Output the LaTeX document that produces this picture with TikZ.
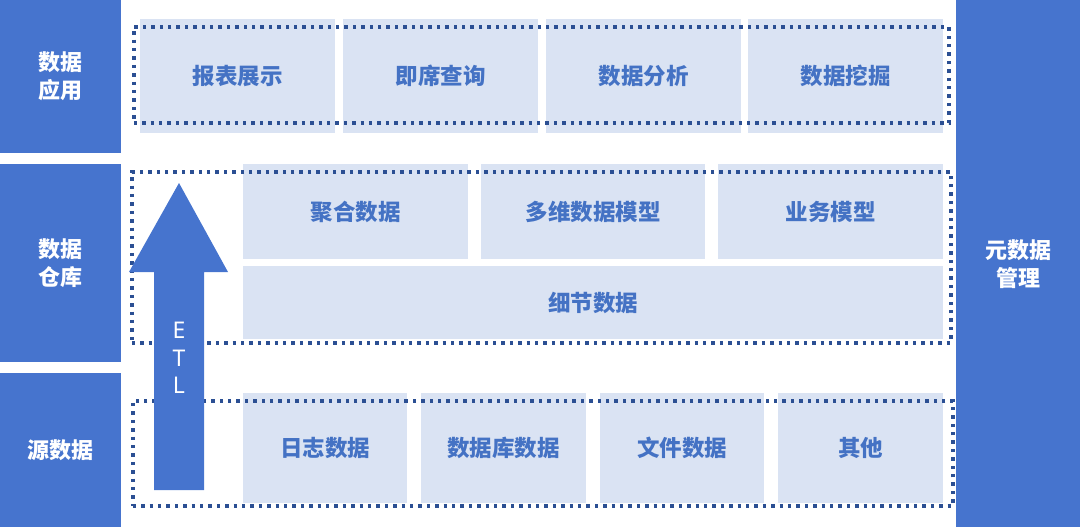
\documentclass[tikz,border=0pt]{standalone}
\usepackage{fontspec}
\newfontfamily\cjk{Noto Sans CJK SC}
\newfontfamily\etlfont{Noto Sans}
\definecolor{darkblue}{HTML}{4674CE}
\definecolor{lightbox}{HTML}{DAE3F3}
\definecolor{boxtext}{HTML}{4472C4}
\definecolor{dotcol}{HTML}{2B4F93}
\begin{document}
\begin{tikzpicture}[x=1pt,y=-1pt,
  side/.style={fill=darkblue,draw=none,inner sep=0pt,anchor=north west,
    text=white,font=\cjk\bfseries\fontsize{22}{28}\selectfont,align=center},
  cell/.style={fill=lightbox,draw=none,inner sep=0pt,anchor=north west,
    text=boxtext,font=\cjk\bfseries\fontsize{22.5}{28}\selectfont},
  dotframe/.style={draw=dotcol,line width=3.6pt,dash pattern=on 3.4pt off 5pt,
    fill=none,inner sep=0pt,anchor=north west},
  etlarrow/.style={fill=darkblue,draw=none}]
\useasboundingbox (0,0) rectangle (1080,527);
% left labels
\node[side,minimum width=121pt,minimum height=153pt] (app) at (0,0) {数据\\应用};
\node[side,minimum width=121pt,minimum height=198pt] (dw) at (0,164) {数据\\仓库};
\node[side,minimum width=121pt,minimum height=154pt] (src) at (0,373) {源数据};
% right column
\node[side,minimum width=124pt,minimum height=527pt] (meta) at (956,0) {元数据\\管理};
% top row
\node[cell,minimum width=195pt,minimum height=114pt] (c1) at (140,19) {报表展示};
\node[cell,minimum width=195pt,minimum height=114pt] (c2) at (343,19) {即席查询};
\node[cell,minimum width=195pt,minimum height=114pt] (c3) at (546,19) {数据分析};
\node[cell,minimum width=195pt,minimum height=114pt] (c4) at (748,19) {数据挖掘};
% warehouse
\node[cell,minimum width=225pt,minimum height=95pt] (w1) at (243,164) {聚合数据};
\node[cell,minimum width=224pt,minimum height=95pt] (w2) at (481,164) {多维数据模型};
\node[cell,minimum width=225pt,minimum height=95pt] (w3) at (718,164) {业务模型};
\node[cell,minimum width=700pt,minimum height=73pt] (w4) at (243,266) {细节数据};
% source
\node[cell,minimum width=164pt,minimum height=110pt] (s1) at (243,393) {日志数据};
\node[cell,minimum width=165pt,minimum height=110pt] (s2) at (421,393) {数据库数据};
\node[cell,minimum width=164pt,minimum height=110pt] (s3) at (600,393) {文件数据};
\node[cell,minimum width=165pt,minimum height=110pt] (s4) at (778,393) {其他};
% dotted frames
\node[dotframe,minimum width=815pt,minimum height=96pt] (f1) at (132,25) {};
\node[dotframe,minimum width=819pt,minimum height=171pt] (f2) at (130,170) {};
\node[dotframe,minimum width=820pt,minimum height=105pt] (f3) at (131,399) {};
% ETL arrow
\fill[etlarrow] (154,490) -- (154,272) -- (129,272) -- (179,183) -- (228,272)
  -- (204,272) -- (204,490) -- cycle;
\node[text=white,font=\etlfont\fontsize{23}{27.5}\selectfont,align=center,inner sep=0pt]
  (etl) at (179,358) {E\\T\\L};
\end{tikzpicture}
\end{document}
